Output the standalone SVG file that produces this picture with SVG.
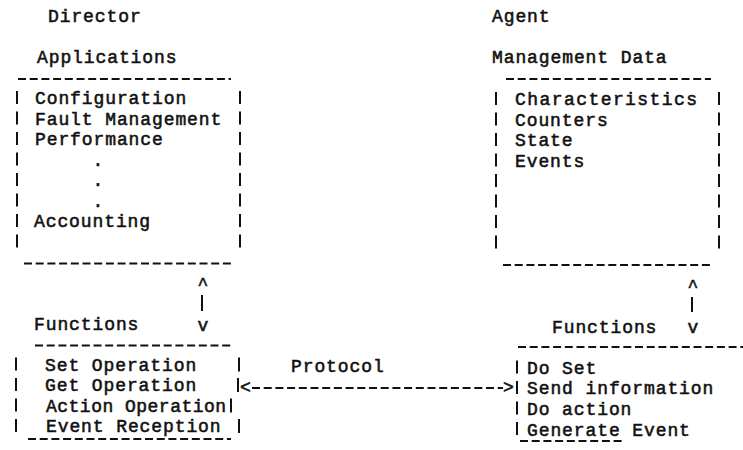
<svg xmlns="http://www.w3.org/2000/svg" width="743" height="450" viewBox="0 0 743 450">
  <style>
    .t { font-family: "Liberation Mono", "Courier New", monospace; font-size: 18px; font-weight: normal; letter-spacing: 0.9px; fill: #111; stroke: #111; stroke-width: 0.55px; white-space: pre; }
    .sym { text-anchor: middle; letter-spacing: 0; }
    .dash { stroke: #111; stroke-width: 2; stroke-dasharray: 8 3.7; fill: none; }
    .bar { stroke: #111; stroke-width: 2; stroke-dasharray: 13 7.5; fill: none; }
    .line { stroke: #111; stroke-width: 2; fill: none; }
  </style>
  <rect width="743" height="450" fill="#fff"/>

  <!-- column headings -->
  <g id="director-heading">
    <text class="t" x="48" y="22">Director</text>
  </g>
  <g id="agent-heading">
    <text class="t" x="492" y="22">Agent</text>
  </g>

  <!-- Director: applications box -->
  <g id="applications">
    <text class="t" x="37" y="63">Applications</text>
    <line class="dash" x1="18" y1="79" x2="231" y2="79"/>
    <line class="bar" x1="17" y1="91" x2="17" y2="249"/>
    <line class="bar" x1="240" y1="91" x2="240" y2="249"/>
    <text class="t" x="35" y="104">Configuration</text>
    <text class="t" x="35" y="125">Fault Management</text>
    <text class="t" x="35" y="145">Performance</text>
    <text class="t sym" x="98" y="166">.</text>
    <text class="t sym" x="98" y="186">.</text>
    <text class="t sym" x="98" y="207">.</text>
    <text class="t" x="34" y="227">Accounting</text>
    <line class="dash" x1="24" y1="263.5" x2="233" y2="263.5"/>
  </g>

  <!-- Agent: management data box -->
  <g id="management-data">
    <text class="t" x="492" y="63">Management Data</text>
    <line class="dash" x1="506" y1="79" x2="711" y2="79"/>
    <line class="bar" x1="496" y1="92" x2="496" y2="250"/>
    <line class="bar" x1="719" y1="92" x2="719" y2="250"/>
    <text class="t" x="515" y="105" textLength="183" lengthAdjust="spacing">Characteristics</text>
    <text class="t" x="515" y="126">Counters</text>
    <text class="t" x="515" y="146">State</text>
    <text class="t" x="515" y="167">Events</text>
    <line class="dash" x1="503" y1="265" x2="711" y2="265"/>
  </g>

  <!-- Director: functions box -->
  <g id="director-functions">
    <text class="t" x="34" y="330">Functions</text>
    <line class="dash" x1="35" y1="345.5" x2="231" y2="345.5"/>
    <line class="bar" x1="16" y1="357.5" x2="16" y2="433"/>
    <line class="line" x1="239" y1="357.5" x2="239" y2="371.5"/>
    <line class="line" x1="238" y1="378" x2="238" y2="392"/>
    <line class="line" x1="231" y1="398.5" x2="231" y2="412.5"/>
    <line class="line" x1="239" y1="419" x2="239" y2="433"/>
    <text class="t" x="45" y="371">Set Operation</text>
    <text class="t" x="45" y="391">Get Operation</text>
    <text class="t" x="46" y="412" textLength="181" lengthAdjust="spacing">Action Operation</text>
    <text class="t" x="46" y="432">Event Reception</text>
    <line class="dash" x1="28" y1="439" x2="231" y2="439"/>
  </g>

  <!-- Agent: functions box -->
  <g id="agent-functions">
    <text class="t" x="552" y="333">Functions</text>
    <line class="dash" x1="518" y1="347" x2="743" y2="347"/>
    <line class="bar" x1="517" y1="360.5" x2="517" y2="436"/>
    <text class="t" x="527" y="374">Do Set</text>
    <text class="t" x="527" y="394">Send information</text>
    <text class="t" x="527" y="415">Do action</text>
    <text class="t" x="527" y="436">Generate Event</text>
    <line class="dash" x1="520" y1="441" x2="623" y2="441"/>
  </g>

  <!-- connectors -->
  <g id="connectors">
    <!-- applications <-> director functions -->
    <text class="t sym" x="203" y="290">^</text>
    <line class="line" x1="202" y1="295" x2="202" y2="311"/>
    <text class="t sym" x="203" y="331">v</text>
    <!-- management data <-> agent functions -->
    <text class="t sym" x="693" y="292">^</text>
    <line class="line" x1="692" y1="297" x2="692" y2="312"/>
    <text class="t sym" x="693" y="333">v</text>
    <!-- protocol link between the two functions boxes -->
    <text class="t" x="291" y="372">Protocol</text>
    <text class="t" x="240" y="393" style="letter-spacing:0">&lt;</text>
    <line class="dash" x1="252" y1="388" x2="503" y2="388"/>
    <text class="t" x="503" y="393" style="letter-spacing:0">&gt;</text>
  </g>
</svg>
